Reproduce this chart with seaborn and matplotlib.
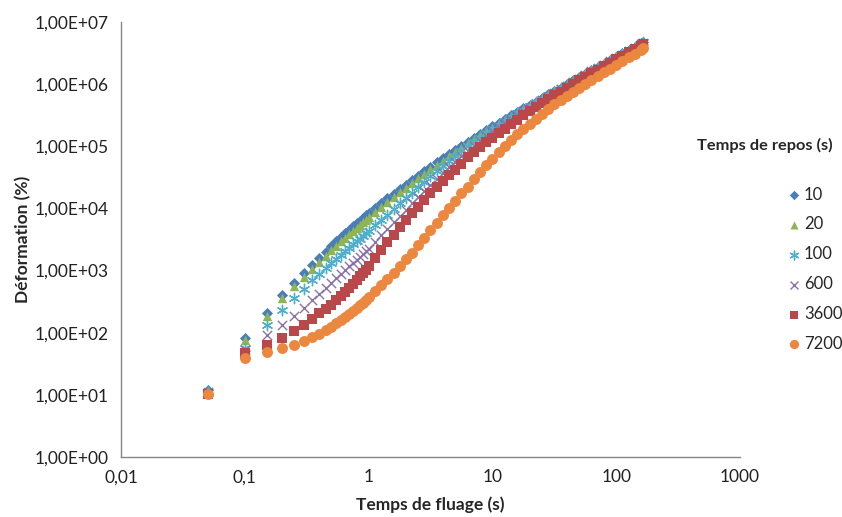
import matplotlib
matplotlib.use("Agg")
import seaborn as sns
from matplotlib import pyplot as plt
from matplotlib.ticker import FixedLocator, FuncFormatter, NullLocator

# temps de fluage (s)
temps = [0.05, 0.1, 0.15, 0.2, 0.25, 0.3, 0.35, 0.4, 0.45, 0.5, 0.55, 0.6, 0.65, 0.7, 0.75,
         0.8, 0.85, 0.9, 0.95,
         1.0, 1.12, 1.25, 1.4, 1.6, 1.8, 2.0, 2.25, 2.5, 2.8, 3.15, 3.55, 4.0, 4.45, 5.0, 5.6,
         6.3, 7.1, 7.95, 8.9, 10, 11.2, 12.6, 14.1, 15.85, 17.8, 19.95, 22.4, 25.1, 28.2, 31.6,
         35.5, 39.8, 44.7, 50.1, 56.2, 63.1, 70.8, 79.4, 89.1, 100, 112.2, 125.9, 141.25, 158.5, 165]

# deformation (%) per temps de repos
def_10 = [12.0, 83, 209, 407, 631, 912, 1230, 1585, 1995, 2512, 2951, 3467, 3981, 4519, 5129,
          5754, 6383, 7079, 7762,
          8511, 1.023e4, 1.216e4, 1.445e4, 1.718e4, 2.042e4, 2.399e4, 2.851e4, 3.35e4, 3.98e4,
          4.68e4, 5.50e4, 6.46e4, 7.50e4, 8.81e4, 1.023e5, 1.19e5, 1.365e5, 1.585e5, 1.82e5,
          2.09e5, 2.40e5, 2.72e5, 3.13e5, 3.55e5, 4.07e5, 4.62e5, 5.25e5, 6.03e5, 6.84e5,
          7.76e5, 8.81e5, 1.0e6, 1.148e6, 1.30e6, 1.479e6, 1.68e6, 1.905e6, 2.14e6, 2.43e6,
          2.75e6, 3.13e6, 3.55e6, 4.03e6, 4.57e6, 4.79e6]
def_20 = [11.5, 76, 186, 359, 556, 794, 1072, 1380, 1718, 2138, 2512, 2951, 3388, 3846, 4365,
          4898, 5433, 6026, 6607,
          7244, 8710, 1.047e4, 1.259e4, 1.514e4, 1.82e4, 2.16e4, 2.57e4, 3.05e4, 3.63e4,
          4.27e4, 5.01e4, 5.89e4, 6.92e4, 8.13e4, 9.55e4, 1.11e5, 1.29e5, 1.50e5, 1.74e5,
          2.0e5, 2.29e5, 2.63e5, 3.02e5, 3.43e5, 3.94e5, 4.47e5, 5.13e5, 5.82e5, 6.61e5,
          7.59e5, 8.61e5, 9.77e5, 1.122e6, 1.27e6, 1.445e6, 1.64e6, 1.86e6, 2.11e6, 2.40e6,
          2.72e6, 3.09e6, 3.51e6, 3.98e6, 4.52e6, 4.73e6]
def_100 = [11.2, 57.5, 132, 234, 355, 513, 692, 891, 1096, 1318, 1549, 1799, 2065, 2344, 2630,
           2951, 3273, 3631, 3981,
           4365, 5370, 6531, 7943, 9772, 1.20e4, 1.48e4, 1.80e4, 2.21e4, 2.69e4,
           3.31e4, 4.03e4, 4.84e4, 5.89e4, 7.08e4, 8.51e4, 1.0e5, 1.175e5, 1.38e5, 1.62e5,
           1.905e5, 2.19e5, 2.54e5, 2.92e5, 3.39e5, 3.89e5, 4.47e5, 5.07e5, 5.82e5, 6.61e5,
           7.59e5, 8.61e5, 9.77e5, 1.122e6, 1.27e6, 1.445e6, 1.64e6, 1.86e6, 2.09e6, 2.37e6,
           2.69e6, 3.05e6, 3.47e6, 3.94e6, 4.47e6, 4.68e6]
def_600 = [11.0, 52.5, 93, 135, 186, 251, 331, 427, 525, 631, 759, 891, 1023, 1175, 1334,
           1496, 1679, 1862, 2042,
           2239, 2884, 3673, 4677, 5957, 7586, 9550, 1.20e4, 1.51e4, 1.905e4,
           2.40e4, 2.99e4, 3.72e4, 4.57e4, 5.62e4, 6.92e4, 8.41e4, 1.01e5, 1.22e5, 1.46e5,
           1.74e5, 2.02e5, 2.34e5, 2.72e5, 3.16e5, 3.63e5, 4.17e5, 4.79e5, 5.50e5, 6.31e5,
           7.24e5, 8.32e5, 9.44e5, 1.084e6, 1.23e6, 1.41e6, 1.60e6, 1.82e6, 2.04e6, 2.32e6,
           2.63e6, 2.99e6, 3.39e6, 3.85e6, 4.37e6, 4.57e6]
def_3600 = [10.5, 47, 63, 83, 105, 132, 166, 204, 245, 282, 331, 389, 452, 525, 610,
            700, 804, 912, 1035,
            1175, 1585, 2138, 2851, 3802, 5012, 6531, 8414, 1.07e4, 1.365e4,
            1.74e4, 2.19e4, 2.72e4, 3.39e4, 4.17e4, 5.13e4, 6.68e4, 8.04e4, 9.66e4, 1.16e5,
            1.38e5, 1.64e5, 1.93e5, 2.26e5, 2.69e5, 3.16e5, 3.67e5, 4.27e5, 4.95e5, 5.75e5,
            6.61e5, 7.59e5, 8.71e5, 1.0e6, 1.148e6, 1.32e6, 1.50e6, 1.70e6, 1.95e6, 2.21e6,
            2.51e6, 2.85e6, 3.24e6, 3.67e6, 4.17e6, 4.37e6]
def_7200 = [10.2, 39, 49, 57.5, 64.5, 74, 85, 97, 110, 124, 141, 158, 178, 200, 224,
            248, 275, 305, 339,
            376, 468, 582, 724, 912, 1175, 1514, 1950, 2570, 3388,
            4467, 5888, 7762, 1.023e4, 1.33e4, 1.74e4, 2.24e4, 2.95e4, 3.85e4, 4.95e4,
            6.31e4, 7.94e4, 1.0e5, 1.245e5, 1.55e5, 1.905e5, 2.32e5, 2.79e5, 3.35e5, 3.98e5,
            4.73e5, 5.56e5, 6.53e5, 7.59e5, 8.81e5, 1.023e6, 1.175e6, 1.35e6, 1.55e6, 1.78e6,
            2.04e6, 2.34e6, 2.69e6, 3.09e6, 3.55e6, 3.76e6]

labels = ["10", "20", "100", "600", "3600", "7200"]
series = [def_10, def_20, def_100, def_600, def_3600, def_7200]
colors = ["#4A7EBB", "#8FB452", "#4FAFCA", "#8A72AC", "#B9484A", "#EB873E"]
markers = ["D", "^", (6, 2, 0), "x", "s", "o"]
sizes = [32, 46, 55, 45, 48, 62]

sns.set_style("white")
plt.rcParams["font.family"] = ["Lato", "DejaVu Sans"]

fig = plt.figure(figsize=(8.42, 5.17), dpi=100)
ax = fig.add_axes([0.1437, 0.1161, 0.7352, 0.8414])

for lab, ys, col, mk, sz in zip(labels, series, colors, markers, sizes):
    filled = mk in ("D", "^", "s", "o")
    sns.scatterplot(x=temps, y=ys, marker=mk, color=col, s=sz,
                    linewidth=0 if filled else 1.0, ax=ax, label=lab)

ax.set_xscale("log")
ax.set_yscale("log")
ax.set_xlim(0.01, 1000)
ax.set_ylim(1, 1e7)

ax.xaxis.set_major_locator(FixedLocator([0.01, 0.1, 1, 10, 100, 1000]))
ax.yaxis.set_major_locator(FixedLocator([10.0 ** k for k in range(8)]))
ax.xaxis.set_minor_locator(NullLocator())
ax.yaxis.set_minor_locator(NullLocator())
ax.xaxis.set_major_formatter(FuncFormatter(lambda v, p: f"{v:g}".replace(".", ",")))
ax.yaxis.set_major_formatter(FuncFormatter(lambda v, p: f"{v:.2E}".replace(".", ",")))

for side in ["top", "right"]:
    ax.spines[side].set_visible(False)
for side in ["left", "bottom"]:
    ax.spines[side].set_color("#868686")
    ax.spines[side].set_linewidth(1.0)
ax.tick_params(axis="both", direction="out", length=4, width=1, color="#868686",
               labelsize=12.5, labelcolor="#222222", pad=5)

ax.set_xlabel("Temps de fluage (s)", fontsize=12.5, fontweight="bold", labelpad=8)
ax.set_ylabel("Déformation (%)", fontsize=12.5, fontweight="bold", labelpad=2)

leg = ax.legend(loc="upper left", bbox_to_anchor=(0.925, 0.652),
                bbox_transform=fig.transFigure, frameon=False, fontsize=12,
                handletextpad=0.1, labelspacing=0.83, borderaxespad=0,
                handlelength=1.0, markerscale=0.85)
fig.text(0.828, 0.718, "Temps de repos (s)", fontsize=11.8, fontweight="bold",
         ha="left", va="center")

fig.savefig("out.png", dpi=100)
